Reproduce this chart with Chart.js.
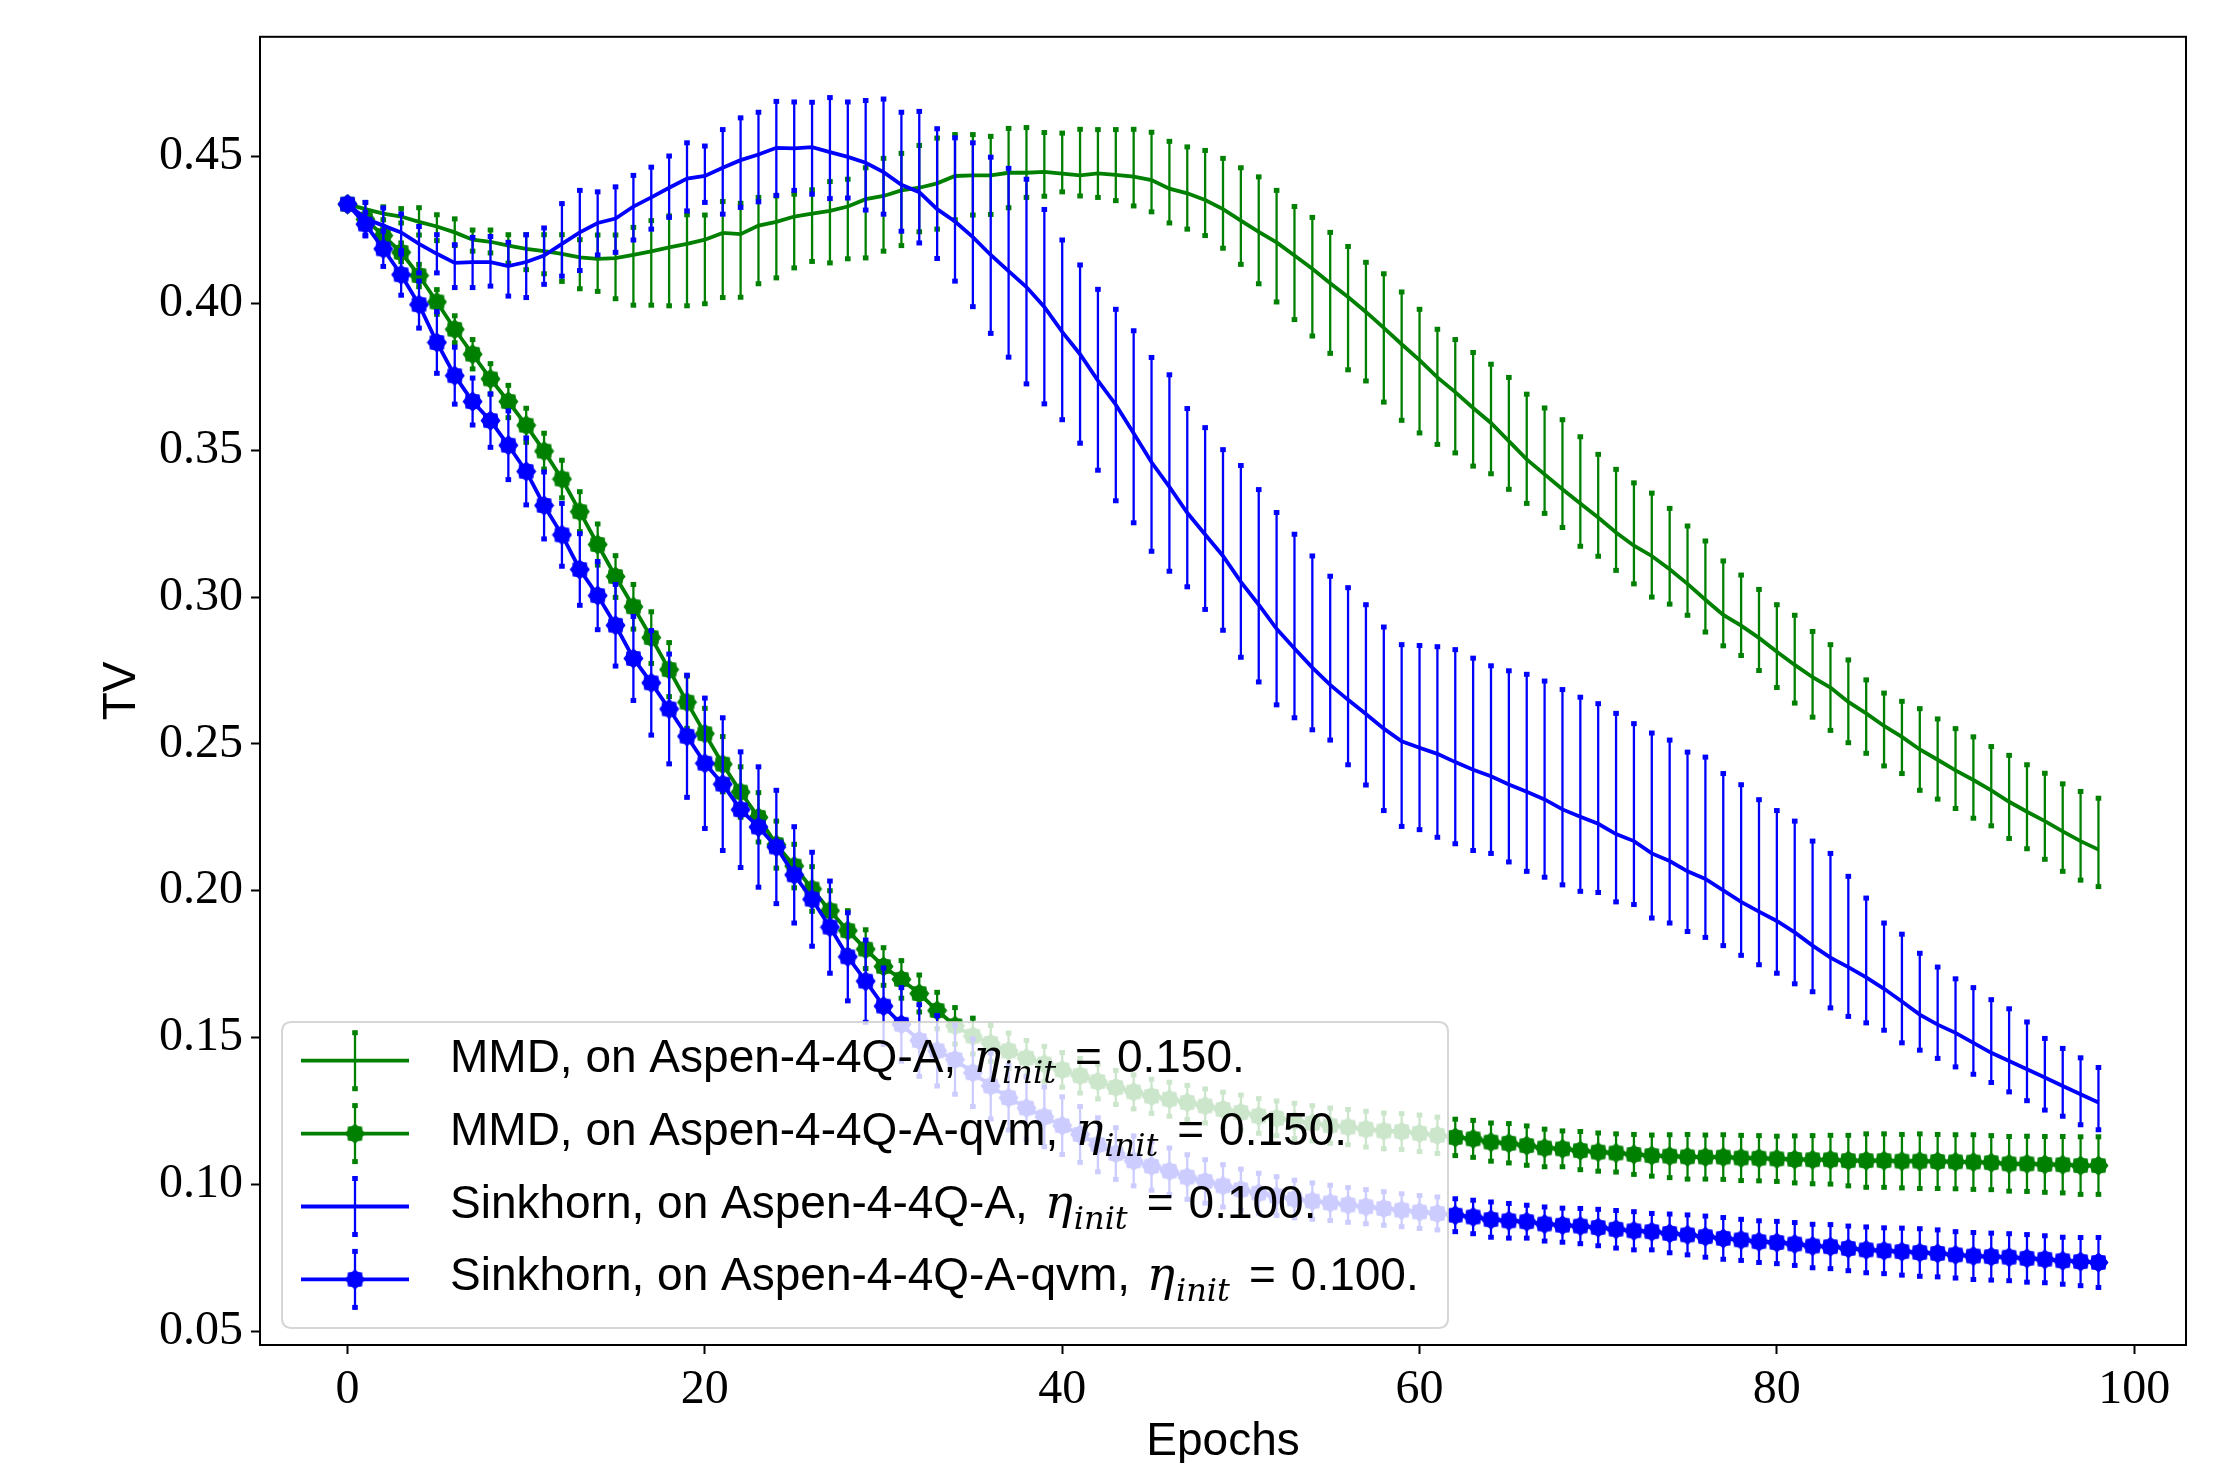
<!DOCTYPE html>
<html>
<head>
<meta charset="utf-8">
<style>
html,body{margin:0;padding:0;background:#ffffff;}
canvas{display:block;}
</style>
<script src="https://cdn.jsdelivr.net/npm/chart.js@4.4.0/dist/chart.umd.min.js"></script>
</head>
<body>
<canvas id="c" width="2230" height="1463"></canvas>
<script>
// ---------------- data ----------------
const epochs = [0,1,2,3,4,5,6,7,8,9,10,11,12,13,14,15,16,17,18,19,20,21,22,23,24,25,26,27,28,29,
30,31,32,33,34,35,36,37,38,39,40,41,42,43,44,45,46,47,48,49,50,51,52,53,54,55,56,57,58,59,
60,61,62,63,64,65,66,67,68,69,70,71,72,73,74,75,76,77,78,79,80,81,82,83,84,85,86,87,88,89,
90,91,92,93,94,95,96,97,98];

// MMD, on Aspen-4-4Q-A  (mean, upper and lower end of the error bar)
const mmdMean = [0.4338,0.4321,0.4306,0.4296,0.4278,0.4262,0.4242,0.4217,0.4210,0.4197,
0.4186,0.4178,0.4169,0.4157,0.4152,0.4154,0.4165,0.4177,0.4191,0.4203,
0.4217,0.4240,0.4236,0.4265,0.4278,0.4296,0.4306,0.4315,0.4330,0.4355,
0.4366,0.4385,0.4394,0.4409,0.4434,0.4436,0.4436,0.4445,0.4445,0.4448,
0.4442,0.4436,0.4443,0.4438,0.4432,0.4420,0.4391,0.4375,0.4352,0.4321,
0.4282,0.4244,0.4208,0.4163,0.4118,0.4069,0.4022,0.3971,0.3917,0.3861,
0.3807,0.3748,0.3698,0.3644,0.3593,0.3531,0.3469,0.3418,0.3367,0.3319,
0.3271,0.3220,0.3175,0.3140,0.3095,0.3045,0.2991,0.2939,0.2903,0.2861,
0.2814,0.2769,0.2727,0.2692,0.2643,0.2604,0.2561,0.2524,0.2481,0.2446,
0.2410,0.2377,0.2342,0.2303,0.2269,0.2237,0.2202,0.2169,0.2140];
const mmdHi = [0.4338,0.4344,0.4329,0.4323,0.4326,0.4302,0.4288,0.4250,0.4250,0.4234,
0.4234,0.4234,0.4234,0.4217,0.4233,0.4233,0.4259,0.4282,0.4298,0.4302,
0.4301,0.4347,0.4341,0.4361,0.4366,0.4372,0.4387,0.4415,0.4423,0.4462,
0.4494,0.4511,0.4538,0.4563,0.4575,0.4575,0.4569,0.4596,0.4599,0.4582,
0.4580,0.4593,0.4592,0.4592,0.4593,0.4583,0.4552,0.4533,0.4521,0.4494,
0.4462,0.4431,0.4385,0.4330,0.4293,0.4242,0.4194,0.4140,0.4101,0.4039,
0.3980,0.3912,0.3877,0.3833,0.3793,0.3748,0.3691,0.3644,0.3604,0.3546,
0.3486,0.3435,0.3389,0.3354,0.3302,0.3242,0.3191,0.3123,0.3075,0.3026,
0.2974,0.2938,0.2883,0.2838,0.2786,0.2718,0.2673,0.2645,0.2620,0.2585,
0.2552,0.2524,0.2491,0.2461,0.2429,0.2400,0.2364,0.2338,0.2315];
const mmdLo = [0.4338,0.4296,0.4285,0.4274,0.4233,0.4214,0.4197,0.4178,0.4172,0.4137,
0.4115,0.4101,0.4075,0.4050,0.4041,0.4016,0.3994,0.3994,0.3992,0.3992,
0.3999,0.4020,0.4021,0.4067,0.4087,0.4121,0.4143,0.4138,0.4152,0.4155,
0.4178,0.4197,0.4244,0.4253,0.4285,0.4301,0.4303,0.4326,0.4361,0.4365,
0.4380,0.4366,0.4361,0.4350,0.4332,0.4312,0.4274,0.4253,0.4231,0.4188,
0.4133,0.4067,0.4005,0.3945,0.3889,0.3830,0.3774,0.3736,0.3664,0.3602,
0.3559,0.3520,0.3491,0.3446,0.3420,0.3367,0.3319,0.3285,0.3237,0.3173,
0.3139,0.3091,0.3045,0.3000,0.2976,0.2938,0.2881,0.2834,0.2801,0.2750,
0.2692,0.2639,0.2591,0.2546,0.2504,0.2468,0.2425,0.2399,0.2342,0.2312,
0.2280,0.2247,0.2221,0.2178,0.2143,0.2107,0.2066,0.2036,0.2014];

// MMD, on Aspen-4-4Q-A-qvm  (mean and half error)
const mmdQvmMean = [0.4338,0.4287,0.4231,0.4174,0.4095,0.4005,0.3912,0.3827,0.3743,0.3666,
0.3585,0.3497,0.3402,0.3291,0.3179,0.3070,0.2967,0.2862,0.2753,0.2642,
0.2535,0.2431,0.2336,0.2250,0.2157,0.2084,0.2006,0.1932,0.1864,0.1801,
0.1742,0.1698,0.1650,0.1592,0.1540,0.1505,0.1480,0.1455,0.1430,0.1410,
0.1390,0.1370,0.1350,0.1330,0.1315,0.1300,0.1290,0.1279,0.1267,0.1255,
0.1245,0.1233,0.1225,0.1216,0.1208,0.1200,0.1195,0.1188,0.1182,0.1180,
0.1174,0.1167,0.1160,0.1155,0.1144,0.1140,0.1132,0.1124,0.1121,0.1115,
0.1110,0.1107,0.1102,0.1098,0.1096,0.1094,0.1093,0.1093,0.1090,0.1089,
0.1087,0.1085,0.1084,0.1084,0.1081,0.1081,0.1081,0.1079,0.1079,0.1078,
0.1077,0.1076,0.1074,0.1070,0.1070,0.1068,0.1067,0.1064,0.1064];
const mmdQvmErr = [0,0.0020,0.0030,0.0032,0.0038,0.0042,0.0046,0.0050,0.0052,0.0055,
0.0058,0.0061,0.0064,0.0068,0.0070,0.0071,0.0076,0.0088,0.0092,0.0089,
0.0086,0.0094,0.0086,0.0084,0.0080,0.0074,0.0076,0.0068,0.0068,0.0066,
0.0064,0.0064,0.0063,0.0062,0.0062,0.0061,0.0061,0.0060,0.0060,0.0060,
0.0059,0.0059,0.0059,0.0058,0.0058,0.0058,0.0058,0.0058,0.0058,0.0059,
0.0059,0.0059,0.0059,0.0060,0.0060,0.0060,0.0060,0.0061,0.0061,0.0061,
0.0062,0.0062,0.0062,0.0063,0.0065,0.0067,0.0067,0.0064,0.0061,0.0065,
0.0065,0.0065,0.0068,0.0070,0.0073,0.0076,0.0075,0.0076,0.0077,0.0077,
0.0077,0.0080,0.0082,0.0083,0.0086,0.0091,0.0091,0.0091,0.0093,0.0092,
0.0092,0.0093,0.0092,0.0093,0.0094,0.0095,0.0096,0.0098,0.0098];

// Sinkhorn, on Aspen-4-4Q-A  (mean, upper and lower end of the error bar)
const sinkMean = [0.4338,0.4289,0.4265,0.4242,0.4203,0.4169,0.4138,0.4141,0.4141,0.4127,
0.4141,0.4163,0.4203,0.4242,0.4274,0.4289,0.4330,0.4361,0.4394,0.4425,
0.4434,0.4462,0.4488,0.4507,0.4530,0.4528,0.4532,0.4515,0.4499,0.4479,
0.4447,0.4404,0.4379,0.4321,0.4279,0.4226,0.4165,0.4110,0.4056,0.3988,
0.3903,0.3827,0.3737,0.3655,0.3558,0.3459,0.3375,0.3287,0.3213,0.3140,
0.3052,0.2974,0.2892,0.2825,0.2760,0.2701,0.2650,0.2602,0.2552,0.2509,
0.2487,0.2466,0.2438,0.2412,0.2390,0.2362,0.2337,0.2311,0.2277,0.2252,
0.2228,0.2193,0.2169,0.2127,0.2101,0.2066,0.2040,0.2001,0.1962,0.1929,
0.1897,0.1858,0.1813,0.1772,0.1740,0.1705,0.1666,0.1623,0.1578,0.1544,
0.1516,0.1482,0.1448,0.1420,0.1392,0.1364,0.1335,0.1307,0.1279];
const sinkHi = [0.4338,0.4344,0.4325,0.4305,0.4262,0.4234,0.4200,0.4225,0.4228,0.4208,
0.4234,0.4257,0.4340,0.4385,0.4380,0.4397,0.4436,0.4464,0.4502,0.4547,
0.4536,0.4592,0.4632,0.4651,0.4688,0.4686,0.4685,0.4701,0.4686,0.4691,
0.4696,0.4651,0.4654,0.4595,0.4564,0.4547,0.4498,0.4460,0.4423,0.4320,
0.4216,0.4131,0.4048,0.3980,0.3907,0.3816,0.3757,0.3642,0.3577,0.3502,
0.3448,0.3366,0.3288,0.3214,0.3140,0.3071,0.3032,0.2974,0.2898,0.2838,
0.2835,0.2831,0.2821,0.2792,0.2766,0.2749,0.2737,0.2714,0.2685,0.2659,
0.2637,0.2604,0.2569,0.2537,0.2513,0.2472,0.2455,0.2399,0.2361,0.2310,
0.2273,0.2237,0.2169,0.2127,0.2049,0.1975,0.1890,0.1852,0.1787,0.1740,
0.1700,0.1670,0.1629,0.1598,0.1553,0.1497,0.1463,0.1431,0.1398];
const sinkLo = [0.4338,0.4231,0.4205,0.4180,0.4104,0.4104,0.4054,0.4054,0.4059,0.4025,
0.4020,0.4065,0.4093,0.4112,0.4165,0.4174,0.4216,0.4253,0.4293,0.4315,
0.4344,0.4304,0.4327,0.4346,0.4368,0.4385,0.4372,0.4357,0.4359,0.4318,
0.4304,0.4246,0.4206,0.4153,0.4076,0.3989,0.3898,0.3817,0.3726,0.3658,
0.3604,0.3524,0.3432,0.3328,0.3253,0.3156,0.3088,0.3035,0.2958,0.2887,
0.2795,0.2711,0.2633,0.2589,0.2548,0.2513,0.2429,0.2360,0.2273,0.2219,
0.2208,0.2182,0.2160,0.2137,0.2127,0.2098,0.2066,0.2046,0.2020,0.1998,
0.1994,0.1962,0.1953,0.1907,0.1890,0.1861,0.1841,0.1813,0.1780,0.1748,
0.1719,0.1683,0.1656,0.1601,0.1572,0.1550,0.1525,0.1482,0.1457,0.1429,
0.1400,0.1375,0.1347,0.1315,0.1285,0.1253,0.1232,0.1203,0.1186];

// Sinkhorn, on Aspen-4-4Q-A-qvm  (mean and half error)
const sinkQvmMean = [0.4338,0.4270,0.4186,0.4098,0.3996,0.3867,0.3754,0.3666,0.3601,0.3517,
0.3428,0.3312,0.3212,0.3094,0.3005,0.2904,0.2791,0.2708,0.2619,0.2526,
0.2434,0.2363,0.2276,0.2217,0.2149,0.2054,0.1971,0.1876,0.1775,0.1692,
0.1607,0.1545,0.1490,0.1455,0.1425,0.1380,0.1335,0.1295,0.1260,0.1230,
0.1200,0.1170,0.1135,0.1105,0.1080,0.1062,0.1045,0.1025,0.1010,0.0995,
0.0982,0.0970,0.0960,0.0950,0.0943,0.0937,0.0930,0.0924,0.0918,0.0912,
0.0906,0.0901,0.0895,0.0889,0.0880,0.0876,0.0873,0.0865,0.0861,0.0858,
0.0853,0.0847,0.0842,0.0839,0.0833,0.0828,0.0822,0.0816,0.0811,0.0805,
0.0802,0.0797,0.0790,0.0788,0.0782,0.0777,0.0774,0.0771,0.0768,0.0765,
0.0760,0.0756,0.0754,0.0752,0.0748,0.0745,0.0740,0.0737,0.0734];
const sinkQvmErr = [0,0.0040,0.0060,0.0070,0.0080,0.0105,0.0097,0.0080,0.0091,0.0117,
0.0114,0.0114,0.0107,0.0122,0.0116,0.0139,0.0143,0.0178,0.0187,0.0208,
0.0222,0.0226,0.0197,0.0205,0.0193,0.0164,0.0160,0.0157,0.0150,0.0140,
0.0130,0.0125,0.0122,0.0120,0.0118,0.0115,0.0112,0.0110,0.0106,0.0102,
0.0098,0.0095,0.0092,0.0088,0.0085,0.0082,0.0079,0.0076,0.0074,0.0072,
0.0070,0.0068,0.0066,0.0064,0.0062,0.0060,0.0059,0.0058,0.0057,0.0056,
0.0056,0.0056,0.0056,0.0057,0.0060,0.0059,0.0056,0.0058,0.0058,0.0060,
0.0062,0.0064,0.0065,0.0062,0.0066,0.0068,0.0070,0.0071,0.0070,0.0071,
0.0072,0.0073,0.0074,0.0075,0.0076,0.0078,0.0078,0.0080,0.0081,0.0080,
0.0079,0.0080,0.0080,0.0080,0.0081,0.0080,0.0080,0.0082,0.0085];

const xTicks = [0, 20, 40, 60, 80, 100];
const yTicks = [0.05, 0.10, 0.15, 0.20, 0.25, 0.30, 0.35, 0.40, 0.45];
const legendNames = ['MMD, on Aspen-4-4Q-A,', 'MMD, on Aspen-4-4Q-A-qvm,',
                     'Sinkhorn, on Aspen-4-4Q-A,', 'Sinkhorn, on Aspen-4-4Q-A-qvm,'];
const etaInit = ['0.150', '0.150', '0.100', '0.100'];

// ---------------- styling helpers ----------------
const GREEN = '#008000';
const BLUE = '#0000ff';
const LINE_W = 3.8;
const BAR_W = 2.3;

function makeMarker(color) {
  const c = document.createElement('canvas');
  c.width = 21; c.height = 21;
  const g = c.getContext('2d');
  g.fillStyle = color;
  g.beginPath();
  const n = 8, R = 10, r = 8.2;
  for (let k = 0; k < 2 * n; k++) {
    const ang = -Math.PI / 2 + k * Math.PI / n;
    const rad = (k % 2) ? r : R;
    const px = 10.5 + rad * Math.cos(ang), py = 10.5 + rad * Math.sin(ang);
    if (k === 0) g.moveTo(px, py); else g.lineTo(px, py);
  }
  g.closePath();
  g.fill();
  return c;
}
const greenMarker = makeMarker(GREEN);
const blueMarker = makeMarker(BLUE);

function pts(vals) { return epochs.map((e, i) => ({x: e, y: vals[i]})); }
function addErr(vals, errs) { return vals.map((v, i) => v + errs[i]); }
function subErr(vals, errs) { return vals.map((v, i) => v - errs[i]); }

const datasets = [
  {label: 'MMD, on Aspen-4-4Q-A', data: pts(mmdMean), errHi: mmdHi, errLo: mmdLo,
   borderColor: GREEN, backgroundColor: GREEN, borderWidth: LINE_W, pointRadius: 0, order: 4, marker: null},
  {label: 'MMD, on Aspen-4-4Q-A-qvm', data: pts(mmdQvmMean), errHi: addErr(mmdQvmMean, mmdQvmErr), errLo: subErr(mmdQvmMean, mmdQvmErr),
   borderColor: GREEN, backgroundColor: GREEN, borderWidth: LINE_W, pointRadius: 9, pointStyle: greenMarker, order: 3, marker: greenMarker},
  {label: 'Sinkhorn, on Aspen-4-4Q-A', data: pts(sinkMean), errHi: sinkHi, errLo: sinkLo,
   borderColor: BLUE, backgroundColor: BLUE, borderWidth: LINE_W, pointRadius: 0, order: 2, marker: null},
  {label: 'Sinkhorn, on Aspen-4-4Q-A-qvm', data: pts(sinkQvmMean), errHi: addErr(sinkQvmMean, sinkQvmErr), errLo: subErr(sinkQvmMean, sinkQvmErr),
   borderColor: BLUE, backgroundColor: BLUE, borderWidth: LINE_W, pointRadius: 9, pointStyle: blueMarker, order: 1, marker: blueMarker}
];

// error bars drawn just before each dataset, through the chart's scales
const errorBarPlugin = {
  id: 'errorBars',
  beforeDatasetDraw(chart, args) {
    const ds = chart.data.datasets[args.index];
    const xs = chart.scales.x, ys = chart.scales.y;
    const a = chart.chartArea;
    const ctx = chart.ctx;
    ctx.save();
    ctx.beginPath();
    ctx.rect(a.left, a.top, a.right - a.left, a.bottom - a.top);
    ctx.clip();
    ctx.strokeStyle = ds.borderColor;
    ctx.fillStyle = ds.borderColor;
    ctx.lineWidth = BAR_W;
    for (let i = 0; i < ds.data.length; i++) {
      const hi = ds.errHi[i], lo = ds.errLo[i];
      if (!(hi > lo)) continue;
      const px = xs.getPixelForValue(ds.data[i].x);
      const pHi = ys.getPixelForValue(hi), pLo = ys.getPixelForValue(lo);
      ctx.beginPath();
      ctx.moveTo(px, pHi); ctx.lineTo(px, pLo);
      ctx.stroke();
      ctx.fillRect(px - 2.8, pHi - 2.5, 5.6, 5);
      ctx.fillRect(px - 2.8, pLo - 2.5, 5.6, 5);
    }
    ctx.restore();
  }
};

function roundRect(ctx, x, y, w, h, r) {
  ctx.beginPath();
  ctx.moveTo(x + r, y);
  ctx.lineTo(x + w - r, y); ctx.quadraticCurveTo(x + w, y, x + w, y + r);
  ctx.lineTo(x + w, y + h - r); ctx.quadraticCurveTo(x + w, y + h, x + w - r, y + h);
  ctx.lineTo(x + r, y + h); ctx.quadraticCurveTo(x, y + h, x, y + h - r);
  ctx.lineTo(x, y + r); ctx.quadraticCurveTo(x, y, x + r, y);
  ctx.closePath();
}

const framePlugin = {
  id: 'frameAndLegend',
  beforeDraw(chart) {
    const ctx = chart.ctx;
    ctx.save();
    ctx.fillStyle = '#ffffff';
    ctx.fillRect(0, 0, chart.width, chart.height);
    ctx.restore();
  },
  afterDraw(chart) {
    const ctx = chart.ctx;
    const a = chart.chartArea;
    // axes frame (all four spines)
    ctx.save();
    ctx.strokeStyle = '#000000';
    ctx.lineWidth = 2;
    ctx.strokeRect(a.left, a.top, a.right - a.left, a.bottom - a.top);
    ctx.restore();

    // legend box (lower left, inside the axes)
    const bx = a.left + 22, by = 1022, bw = 1166, bh = 306;
    ctx.save();
    roundRect(ctx, bx, by, bw, bh, 10);
    ctx.fillStyle = 'rgba(255,255,255,0.8)';
    ctx.fill();
    ctx.strokeStyle = 'rgba(204,204,204,0.8)';
    ctx.lineWidth = 2;
    ctx.stroke();

    const rowStep = 72.9;
    const firstRow = 1060.7;
    const hx0 = bx + 19, hx1 = bx + 127, hxc = bx + 73;
    const textX = bx + 168;
    chart.data.datasets.forEach((ds, i) => {
      const cy = firstRow + i * rowStep;
      ctx.strokeStyle = ds.borderColor;
      ctx.fillStyle = ds.borderColor;
      ctx.lineWidth = LINE_W;
      ctx.beginPath(); ctx.moveTo(hx0, cy); ctx.lineTo(hx1, cy); ctx.stroke();
      ctx.lineWidth = BAR_W;
      ctx.beginPath(); ctx.moveTo(hxc, cy - 28); ctx.lineTo(hxc, cy + 28); ctx.stroke();
      ctx.fillRect(hxc - 2.8, cy - 30.5, 5.6, 5);
      ctx.fillRect(hxc - 2.8, cy + 25.5, 5.6, 5);
      if (ds.marker) ctx.drawImage(ds.marker, hxc - ds.marker.width / 2, cy - ds.marker.height / 2);

      // label text with math part
      const base = cy + 11;
      let x = textX;
      ctx.fillStyle = '#000000';
      ctx.textBaseline = 'alphabetic';
      ctx.textAlign = 'left';
      ctx.font = "46px 'Liberation Sans', sans-serif";
      const t1 = legendNames[i] + ' ';
      ctx.fillText(t1, x, base);
      x += ctx.measureText(t1).width + 4;
      ctx.font = "italic 47px 'DejaVu Serif', serif";
      ctx.fillText('\u03B7', x, base);
      x += ctx.measureText('\u03B7').width + 1;
      ctx.font = "italic 32px 'DejaVu Serif', serif";
      ctx.fillText('init', x, base + 11);
      x += ctx.measureText('init').width + 19;
      ctx.font = "46px 'Liberation Sans', sans-serif";
      ctx.fillText('=', x, base);
      x += ctx.measureText('=').width + 15;
      ctx.fillText(etaInit[i] + '.', x, base);
    });
    ctx.restore();
  }
};

new Chart(document.getElementById('c').getContext('2d'), {
  type: 'line',
  data: {datasets: datasets},
  options: {
    responsive: false,
    animation: false,
    devicePixelRatio: 1,
    events: [],
    layout: {padding: {top: 30, right: 44, bottom: 0, left: 0}},
    elements: {line: {tension: 0}},
    plugins: {legend: {display: false}, tooltip: {enabled: false}},
    scales: {
      x: {
        type: 'linear', min: -4.9, max: 102.9,
        afterBuildTicks: s => { s.ticks = xTicks.map(v => ({value: v})); },
        afterFit: s => { s.height = 118; },
        border: {display: false},
        grid: {drawOnChartArea: false, drawTicks: true, tickLength: 9, tickWidth: 2, tickColor: '#000000'},
        ticks: {autoSkip: false, maxRotation: 0, padding: 8, color: '#000000',
                font: {family: "'Liberation Serif', serif", size: 48},
                callback: v => String(v)},
        title: {display: true, text: 'Epochs', color: '#000000',
                font: {family: "'Liberation Sans', sans-serif", size: 46, lineHeight: 0.9},
                padding: {top: 0, bottom: 0}}
      },
      y: {
        type: 'linear', min: 0.0453, max: 0.4908,
        afterBuildTicks: s => { s.ticks = yTicks.map(v => ({value: v})); },
        afterFit: s => { s.width = 260; },
        border: {display: false},
        grid: {drawOnChartArea: false, drawTicks: true, tickLength: 9, tickWidth: 2, tickColor: '#000000'},
        ticks: {autoSkip: false, padding: 8, color: '#000000',
                font: {family: "'Liberation Serif', serif", size: 48},
                callback: v => v.toFixed(2)},
        title: {display: true, text: 'TV', color: '#000000',
                font: {family: "'Liberation Sans', sans-serif", size: 46, lineHeight: 1},
                padding: {top: 99, bottom: 0}}
      }
    }
  },
  plugins: [errorBarPlugin, framePlugin]
});
</script>
</body>
</html>
